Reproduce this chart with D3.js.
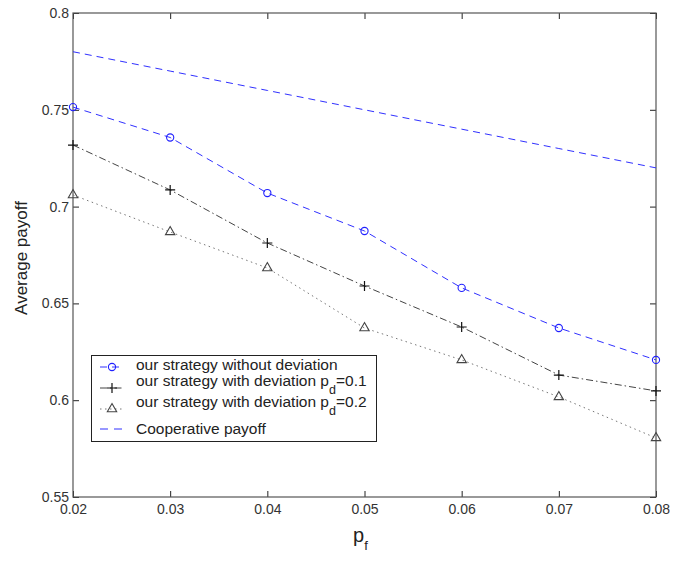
<!DOCTYPE html>
<html>
<head>
<meta charset="utf-8">
<script src="https://cdn.jsdelivr.net/npm/d3@7"></script>
<style>
  html, body { margin: 0; padding: 0; background: #fff; }
  svg { display: block; font-family: "Liberation Sans", Arial, sans-serif; }
</style>
</head>
<body>
<svg id="chart" width="673" height="563"></svg>
<script>
// Failure probability p_f on the horizontal axis
const pf = [0.02, 0.03, 0.04, 0.05, 0.06, 0.07, 0.08];

// Average payoff for each strategy
const noDeviation = [0.7514, 0.7357, 0.7070, 0.6874, 0.6580, 0.6373, 0.6208];
const deviation01 = [0.7318, 0.7086, 0.6812, 0.6590, 0.6378, 0.6130, 0.6048];
const deviation02 = [0.7060, 0.6869, 0.6683, 0.6373, 0.6208, 0.6017, 0.5805];
const cooperative = [0.78, 0.77, 0.76, 0.75, 0.74, 0.73, 0.72];

const xTicks = [0.02, 0.03, 0.04, 0.05, 0.06, 0.07, 0.08];
const yTicks = [0.55, 0.6, 0.65, 0.7, 0.75, 0.8];

const svg = d3.select("#chart");
const plotLeft = 73, plotRight = 656, plotTop = 13, plotBottom = 497;

const x = d3.scaleLinear().domain([0.02, 0.08]).range([plotLeft, plotRight]);
const y = d3.scaleLinear().domain([0.55, 0.8]).range([plotBottom, plotTop]);

const fmt = d => String(+d.toFixed(2));
const axisColor = "#555";
const textColor = "#333";

// Ticks point inward on all four sides
function styleAxis(g) {
  g.select(".domain").remove();
  g.selectAll(".tick line").attr("stroke", "#222").attr("stroke-width", 1);
  g.selectAll(".tick text").attr("fill", textColor)
    .attr("font-family", "Liberation Sans, Arial, sans-serif")
    .attr("font-size", 14);
}

svg.append("g").attr("transform", `translate(0,${plotBottom})`)
  .call(d3.axisBottom(x).tickValues(xTicks).tickFormat(fmt).tickSizeInner(-6).tickSizeOuter(0).tickPadding(7))
  .call(styleAxis);
svg.append("g").attr("transform", `translate(0,${plotTop})`)
  .call(d3.axisTop(x).tickValues(xTicks).tickFormat("").tickSizeInner(-6).tickSizeOuter(0))
  .call(styleAxis);
svg.append("g").attr("transform", `translate(${plotLeft},0)`)
  .call(d3.axisLeft(y).tickValues(yTicks).tickFormat(fmt).tickSizeInner(-6).tickSizeOuter(0).tickPadding(4))
  .call(styleAxis);
svg.append("g").attr("transform", `translate(${plotRight},0)`)
  .call(d3.axisRight(y).tickValues(yTicks).tickFormat("").tickSizeInner(-6).tickSizeOuter(0))
  .call(styleAxis);

// Plot frame
svg.append("rect")
  .attr("x", plotLeft).attr("y", plotTop)
  .attr("width", plotRight - plotLeft).attr("height", plotBottom - plotTop)
  .attr("fill", "none").attr("stroke", axisColor).attr("stroke-width", 1.2);

const line = d3.line().x((d, i) => x(pf[i])).y(d => y(d));

const series = [
  { values: cooperative, color: "#3030ff", dash: "7,5", marker: null, width: 1 },
  { values: noDeviation, color: "#3030ff", dash: "7,5", marker: "circle", width: 1 },
  { values: deviation01, color: "#444", dash: "7,3,1.5,3", marker: "plus", width: 1 },
  { values: deviation02, color: "#777", dash: "1.5,3.5", marker: "triangle", width: 1 }
];

function drawMarker(g, kind, cx, cy) {
  if (kind === "circle") {
    g.append("circle").attr("cx", cx).attr("cy", cy).attr("r", 3.6)
      .attr("fill", "none").attr("stroke", "#2020ff").attr("stroke-width", 1.1);
  } else if (kind === "plus") {
    g.append("path")
      .attr("d", `M${cx - 5},${cy}H${cx + 5}M${cx},${cy - 5}V${cy + 5}`)
      .attr("stroke", "#111").attr("stroke-width", 1.2).attr("fill", "none");
  } else if (kind === "triangle") {
    const tri = d3.symbol().type(d3.symbolTriangle).size(38)();
    g.append("path").attr("d", tri)
      .attr("transform", `translate(${cx},${cy})`)
      .attr("fill", "none").attr("stroke", "#444").attr("stroke-width", 1.1);
  }
}

series.forEach(s => {
  svg.append("path").datum(s.values)
    .attr("d", line)
    .attr("fill", "none").attr("stroke", s.color)
    .attr("stroke-width", s.width).attr("stroke-dasharray", s.dash);
  if (s.marker) {
    const g = svg.append("g");
    s.values.forEach((v, i) => drawMarker(g, s.marker, x(pf[i]), y(v)));
  }
});

// Axis titles
const xl = svg.append("text").attr("x", 353).attr("y", 542)
  .attr("fill", "#222").attr("font-size", 20);
xl.append("tspan").text("p");
xl.append("tspan").attr("font-size", 13).attr("dy", 8).text("f");

svg.append("text")
  .attr("transform", "translate(27,258) rotate(-90)")
  .attr("text-anchor", "middle").attr("fill", "#222").attr("font-size", 17)
  .text("Average payoff");

// Legend
const lg = svg.append("g");
lg.append("rect").attr("x", 91.5).attr("y", 355.5).attr("width", 285).attr("height", 86)
  .attr("fill", "#fff").attr("stroke", "#222").attr("stroke-width", 1);

const legendRows = [
  { s: series[1], y: 367, ty: 370, text: ["our strategy without deviation"] },
  { s: series[2], y: 388, ty: 386, text: ["our strategy with deviation p", "d", "=0.1"] },
  { s: series[3], y: 409, ty: 407, text: ["our strategy with deviation p", "d", "=0.2"] },
  { s: series[0], y: 429, ty: 434, text: ["Cooperative payoff"] }
];

legendRows.forEach(r => {
  lg.append("line").attr("x1", 100).attr("x2", 124).attr("y1", r.y).attr("y2", r.y)
    .attr("stroke", r.s.color).attr("stroke-width", 1)
    .attr("stroke-dasharray", r.s.marker ? r.s.dash : "8,6");
  if (r.s.marker) drawMarker(lg, r.s.marker, 112, r.y);
  const t = lg.append("text").attr("x", 136).attr("y", r.ty)
    .attr("fill", "#222").attr("font-size", 15.5);
  t.append("tspan").text(r.text[0]);
  if (r.text.length > 1) {
    t.append("tspan").attr("font-size", 12.5).attr("dy", 8).text(r.text[1]);
    t.append("tspan").attr("dy", -8).text(r.text[2]);
  }
});
</script>
</body>
</html>
